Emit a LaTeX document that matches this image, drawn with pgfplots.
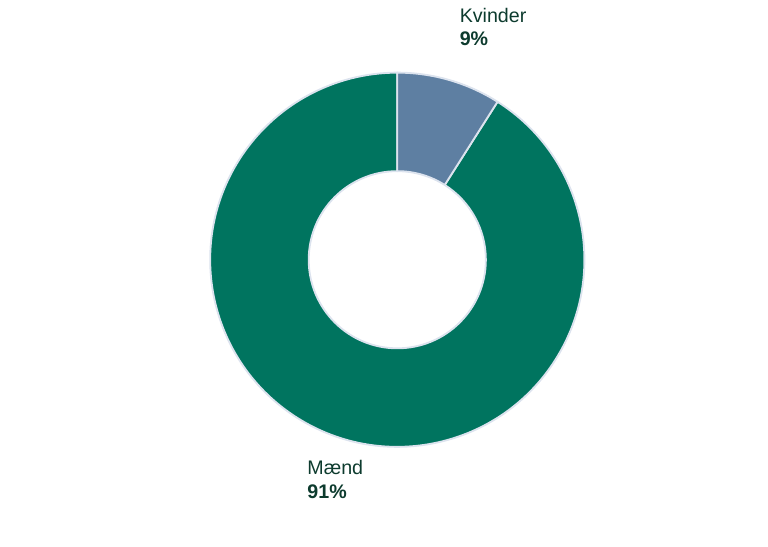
\documentclass[border=0pt]{standalone}
\usepackage{pgfplots}
\pgfplotsset{compat=1.18}
\usepackage{pgfplotstable}
\usepackage{fontspec}
\setmainfont{Liberation Sans}
\usetikzlibrary{calc}

\definecolor{maend}{HTML}{00745F}
\definecolor{kvinder}{HTML}{5E7FA2}
\definecolor{edge}{HTML}{DCE3EE}
\definecolor{txt}{HTML}{0D3B2E}

% andel i procent
\pgfplotstableread{
label value
Kvinder 9
Maend 91
}\andele

\begin{document}
\pgfplotstablegetelem{0}{value}\of\andele \let\vK\pgfplotsretval
\pgfmathsetmacro{\aK}{90-3.6*\vK}
\begin{tikzpicture}
\begin{axis}[
    x=0.75pt, y=0.75pt,
    xmin=0, xmax=768, ymin=0, ymax=549,
    hide axis,
    clip=false,
]
\path (axis cs:0,0) rectangle (axis cs:768,549);
\coordinate (C) at (axis cs:395.5,288);
% Mænd
\filldraw[fill=maend, draw=edge, line width=1.4pt, line join=round]
  ($(C)+(\aK:141pt)$) arc[start angle=\aK, end angle=-270, radius=141pt]
  -- ($(C)+(90:66.75pt)$) arc[start angle=90, end angle=\aK+360, radius=66.75pt] -- cycle;
% Kvinder
\filldraw[fill=kvinder, draw=edge, line width=1.4pt, line join=round]
  ($(C)+(90:141pt)$) arc[start angle=90, end angle=\aK, radius=141pt]
  -- ($(C)+(\aK:66.75pt)$) arc[start angle=\aK, end angle=90, radius=66.75pt] -- cycle;

\begin{scope}[every node/.style={anchor=base west, inner sep=0pt, text=txt,
    font=\fontsize{14.8}{17}\selectfont}]
\node at (axis cs:458,526) {Kvinder};
\node at (axis cs:458,503) {\bfseries 9\%};
\node at (axis cs:305,72) {Mænd};
\node at (axis cs:305,48) {\bfseries 91\%};
\end{scope}
\end{axis}
\end{tikzpicture}
\end{document}
